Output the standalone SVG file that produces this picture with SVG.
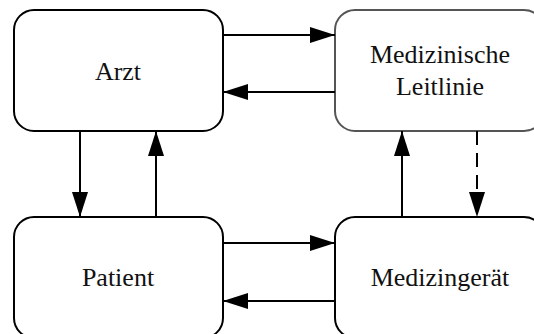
<svg xmlns="http://www.w3.org/2000/svg" width="534" height="334" viewBox="0 0 534 334">
  <style>
    .box { fill: #ffffff; stroke: #000000; stroke-width: 2; }
    .box.soft { stroke: #555555; }
    .label { font-family: 'Liberation Serif', 'DejaVu Serif', serif; font-size: 26px; fill: #111111; text-anchor: middle; }
    .edge { stroke: #000000; stroke-width: 2; fill: none; marker-end: url(#head); }
    .edge.dashed { stroke-dasharray: 14 8; }
  </style>
  <defs>
    <marker id="head" markerUnits="userSpaceOnUse" markerWidth="25" markerHeight="16" refX="25" refY="8" orient="auto">
      <path d="M0,0 L25,8 L0,16 z" fill="#000000"/>
    </marker>
  </defs>
  <rect width="534" height="334" fill="#ffffff"/>

  <g font-family="Liberation Serif, DejaVu Serif, serif">
    <g id="arzt">
      <rect class="box" x="14" y="10" width="209" height="121" rx="20" ry="20"/>
      <text class="label" x="118" y="80" font-family="Liberation Serif, serif">Arzt</text>
    </g>

    <g id="leitlinie">
      <rect class="box soft" x="335" y="10" width="209" height="121" rx="20" ry="20"/>
      <text class="label" x="440" y="63" font-family="Liberation Serif, serif">Medizinische</text>
      <text class="label" x="440" y="95" font-family="Liberation Serif, serif">Leitlinie</text>
    </g>

    <g id="patient">
      <rect class="box" x="14" y="217" width="209" height="121" rx="20" ry="20"/>
      <text class="label" x="118" y="286" font-family="Liberation Serif, serif">Patient</text>
    </g>

    <g id="medizingeraet">
      <rect class="box" x="335" y="217" width="209" height="121" rx="20" ry="20"/>
      <text class="label" x="440" y="286" font-family="Liberation Serif, serif">Medizingerät</text>
    </g>
  </g>

  <g id="connectors">
    <line class="edge" x1="223" y1="35" x2="335" y2="35"/>
    <line class="edge" x1="335" y1="92" x2="223" y2="92"/>
    <line class="edge" x1="80" y1="131" x2="80" y2="217"/>
    <line class="edge" x1="156" y1="217" x2="156" y2="131"/>
    <line class="edge" x1="402" y1="217" x2="402" y2="131"/>
    <line class="edge dashed" x1="477" y1="131" x2="477" y2="217"/>
    <line class="edge" x1="223" y1="243" x2="335" y2="243"/>
    <line class="edge" x1="335" y1="301" x2="223" y2="301"/>
  </g>
</svg>
